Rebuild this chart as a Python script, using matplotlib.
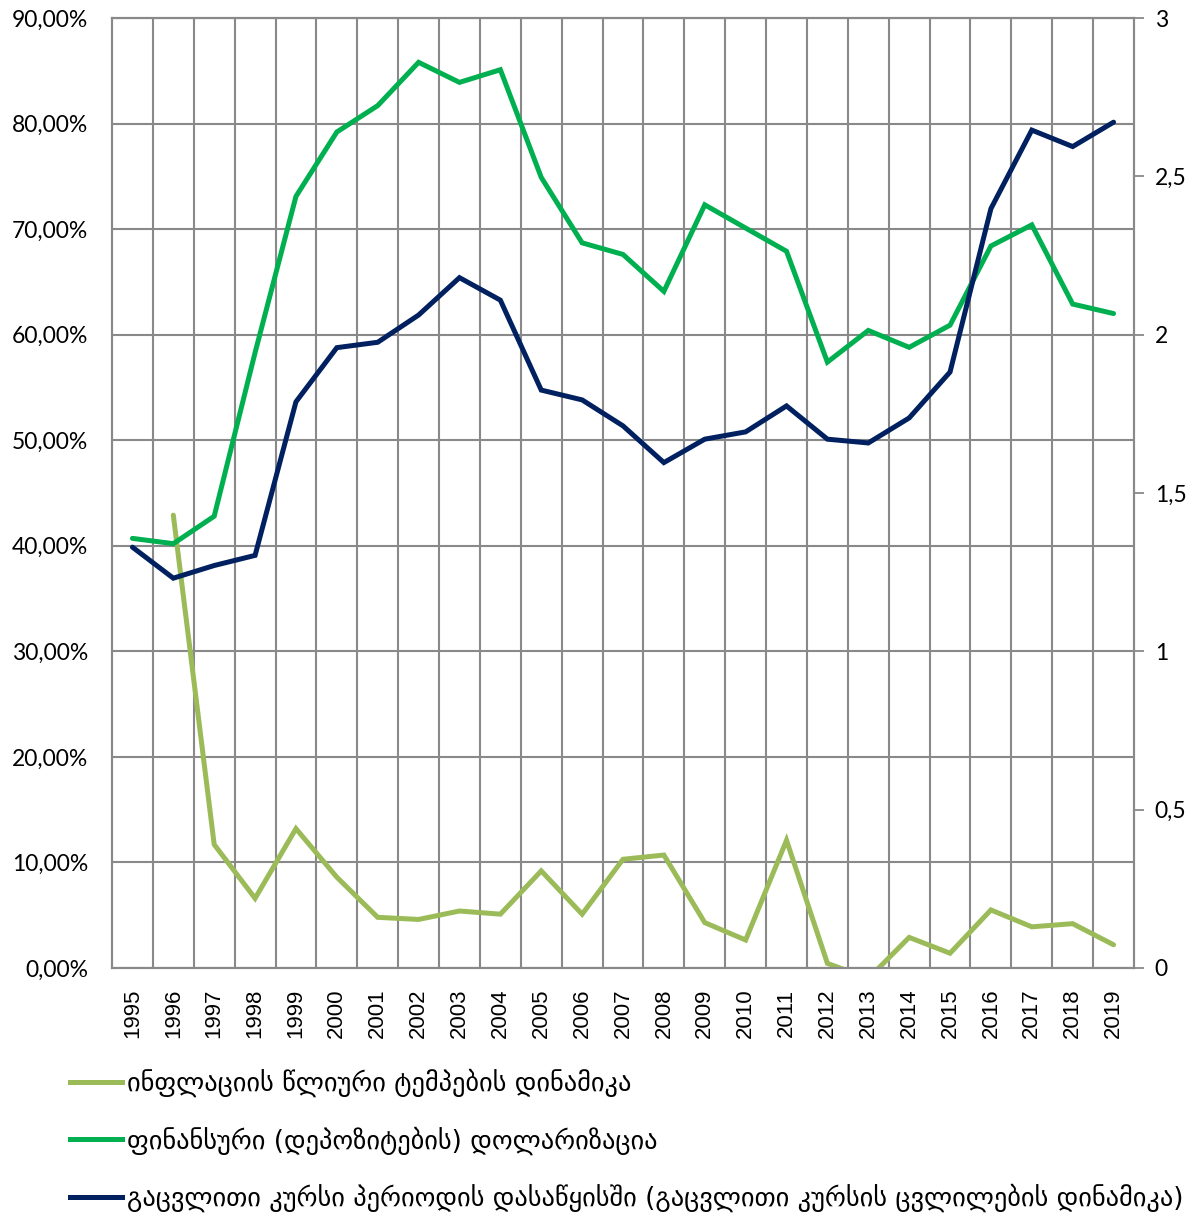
import matplotlib
matplotlib.use("Agg")
import matplotlib.pyplot as plt
from matplotlib.lines import Line2D
import numpy as np

years = list(range(1995, 2020))
year_labels = [str(y) for y in years]

# inflation annual rate (left axis, fraction); 1995 missing
inflation = [np.nan, 0.429, 0.117, 0.066, 0.132, 0.086, 0.048, 0.046, 0.054, 0.051,
             0.092, 0.051, 0.103, 0.107, 0.043, 0.0265, 0.121, 0.0044, -0.010, 0.029,
             0.014, 0.055, 0.039, 0.042, 0.022]
# financial (deposit) dollarization (left axis, fraction)
dollarization = [0.407, 0.402, 0.428, 0.583, 0.731, 0.792, 0.817, 0.858, 0.839, 0.851,
                 0.749, 0.687, 0.676, 0.641, 0.723, 0.701, 0.679, 0.574, 0.604, 0.588,
                 0.609, 0.684, 0.704, 0.629, 0.620]
# exchange rate at beginning of period (right axis)
exchange_rate = [1.329, 1.231, 1.271, 1.303, 1.788, 1.959, 1.976, 2.062, 2.180, 2.109,
                 1.825, 1.794, 1.712, 1.596, 1.670, 1.693, 1.775, 1.670, 1.658, 1.737,
                 1.882, 2.398, 2.646, 2.594, 2.671]

labels = ["ინფლაციის წლიური ტემპების დინამიკა",
          "ფინანსური (დეპოზიტების) დოლარიზაცია",
          "გაცვლითი კურსი პერიოდის დასაწყისში (გაცვლითი კურსის ცვლილების დინამიკა)"]
colors = ["#9BBB59", "#00B050", "#002060"]

left_ticks = [i / 10 for i in range(10)]
left_tick_labels = ["0,00%"] + [f"{i*10},00%" for i in range(1, 10)]
right_ticks = [0, 0.5, 1, 1.5, 2, 2.5, 3]
right_tick_labels = ["0", "0,5", "1", "1,5", "2", "2,5", "3"]

W, H = 1200, 1217
fig = plt.figure(figsize=(W / 100, H / 100), dpi=100)
L, R, T, B = 112, 1134, 18, 968
ax = fig.add_axes([L / W, 1 - B / H, (R - L) / W, (B - T) / H])
ax2 = ax.twinx()

x = np.arange(len(years))
grid_c = "#898989"
lw = 3.6

ax.plot(x, inflation, color=colors[0], lw=lw, solid_capstyle="round", solid_joinstyle="miter", zorder=3)
ax.plot(x, dollarization, color=colors[1], lw=lw, solid_capstyle="round", solid_joinstyle="miter", zorder=3)
ax2.plot(x, exchange_rate, color=colors[2], lw=lw, solid_capstyle="round", solid_joinstyle="miter", zorder=3)

ax.set_xlim(-0.5, len(years) - 0.5)
ax.set_ylim(0, 0.9)
ax2.set_ylim(0, 3)

ax.set_yticks(left_ticks)
ax.set_yticklabels(left_tick_labels, fontfamily="Lato", fontsize=16.5)
ax.tick_params(axis="y", length=0, pad=17)
ax.set_xticks(x)
ax.set_xticklabels(year_labels, rotation=90, fontfamily="Liberation Sans", fontsize=16)
ax.tick_params(axis="x", length=0, pad=15)

ax2.set_yticks(right_ticks)
ax2.set_yticklabels(right_tick_labels, fontfamily="Lato", fontsize=16.5)
ax2.tick_params(axis="y", length=7, width=1.3, color=grid_c, pad=8)

ax.grid(axis="y", color=grid_c, lw=1.5, zorder=0)
for b in np.arange(0.5, len(years) - 0.5, 1):
    ax.axvline(b, color=grid_c, lw=1.5, zorder=0)
ax.set_axisbelow(True)

for a in (ax, ax2):
    for s in a.spines.values():
        s.set_color(grid_c)
        s.set_linewidth(1.5)

handles = [Line2D([], [], color=c, lw=lw) for c in colors]
fs = 19
fig.legend(handles, labels, loc="upper left", bbox_to_anchor=(59 / W, 1 - 1058 / H),
           frameon=False, handlelength=1.97, handletextpad=0.2, labelspacing=1.1,
           borderaxespad=0, prop={"family": "DejaVu Sans", "size": fs})

fig.savefig("out.png", dpi=100)
